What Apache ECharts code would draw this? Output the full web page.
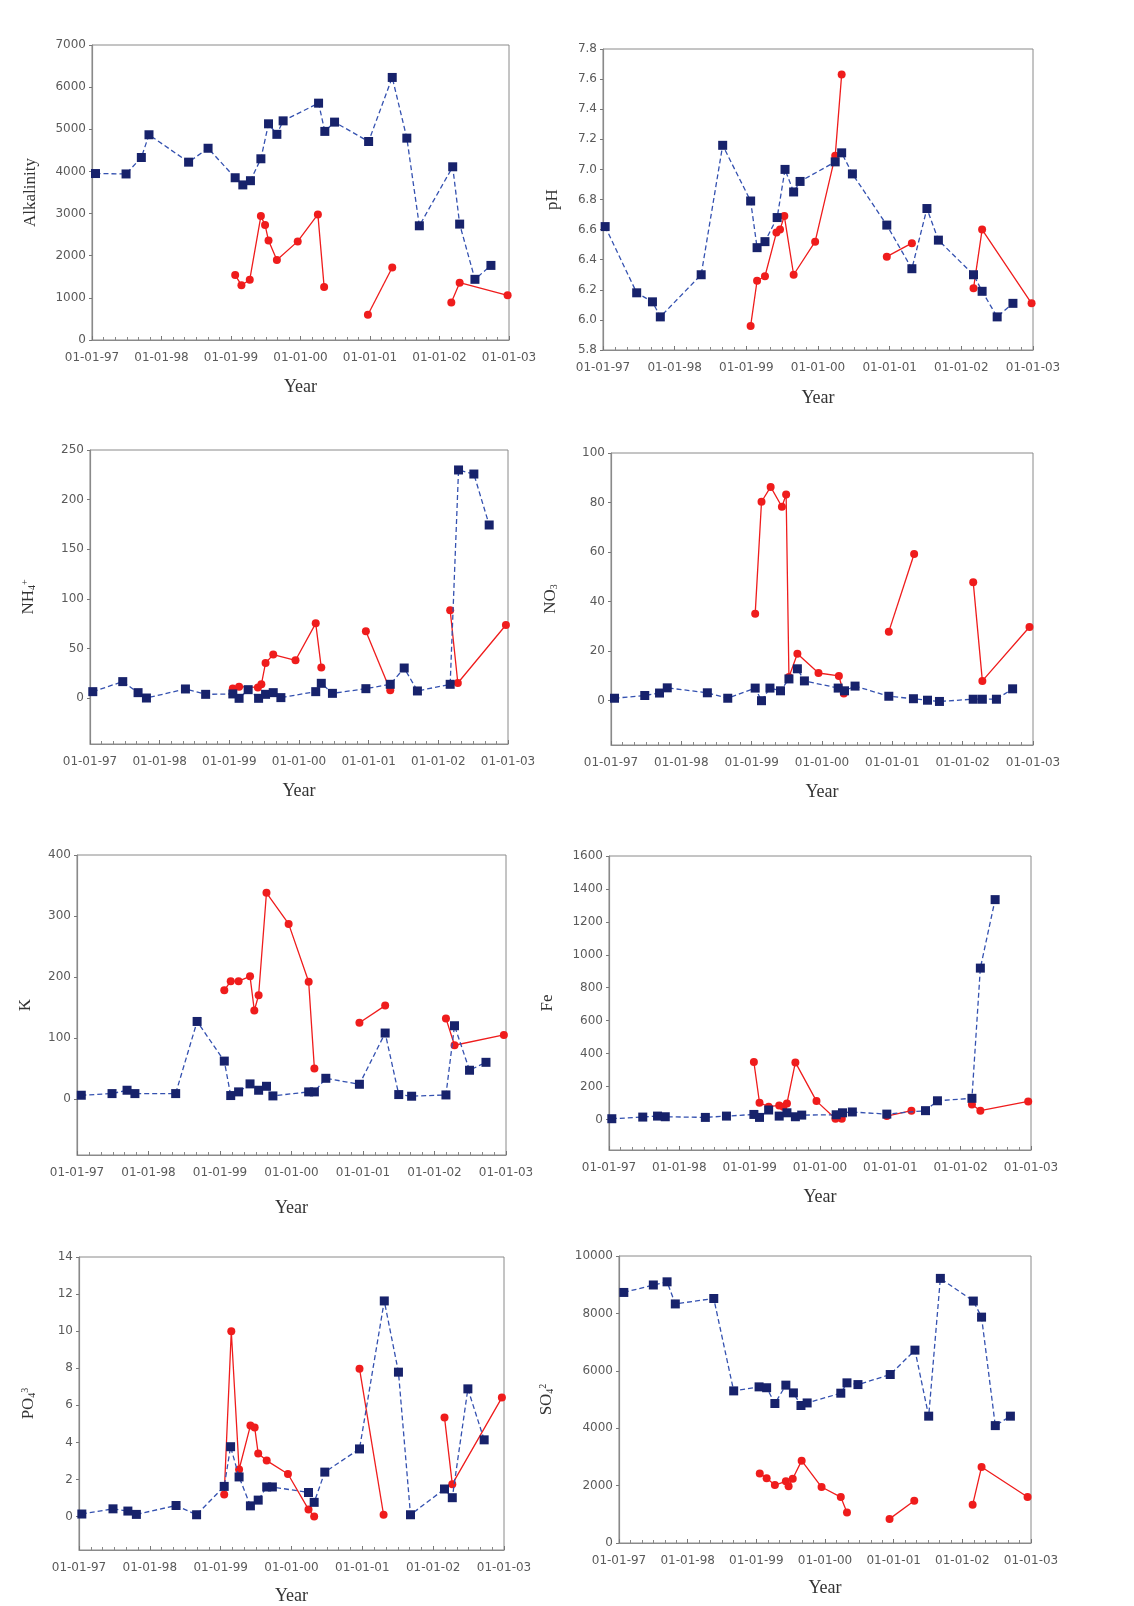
<!DOCTYPE html>
<html>
<head>
<meta charset="utf-8">
<script src="https://cdn.jsdelivr.net/npm/echarts@6/dist/echarts.min.js"></script>
<style>
  html, body { margin: 0; padding: 0; background: #ffffff; }
  #chart { width: 1134px; height: 1606px; }
</style>
</head>
<body>
<div id="chart"></div>
<script>
// Sampling dates are decimal years; null marks a break in the red record.

// Alkalinity
const alkBlueYr = [1997.05,1997.49,1997.71,1997.82,1998.39,1998.67,1999.06,1999.17,1999.28,1999.43,1999.54,1999.66,1999.75,2000.26,2000.35,2000.49,2000.98,2001.32,2001.53,2001.71,2002.19,2002.29,2002.51,2002.74];
const alkBlue   = [3950,3940,4330,4870,4220,4550,3850,3680,3780,4300,5130,4880,5200,5620,4950,5170,4710,6230,4790,2710,4110,2750,1440,1770];
const alkRedYr  = [1999.06,1999.15,1999.27,1999.43,1999.49,1999.54,1999.66,1999.96,2000.25,2000.34,null,2000.97,2001.32,null,2002.17,2002.29,2002.98];
const alkRed    = [1540,1300,1430,2940,2730,2360,1900,2340,2980,1260,null,600,1720,null,890,1360,1060];
const alkTicks  = [0,1000,2000,3000,4000,5000,6000,7000];

// pH
const phBlueYr = [1997.03,1997.47,1997.69,1997.80,1998.37,1998.67,1999.06,1999.15,1999.26,1999.43,1999.54,1999.66,1999.75,2000.24,2000.33,2000.48,2000.96,2001.31,2001.52,2001.68,2002.17,2002.29,2002.50,2002.72];
const phBlue   = [6.62,6.18,6.12,6.02,6.30,7.16,6.79,6.48,6.52,6.68,7.00,6.85,6.92,7.05,7.11,6.97,6.63,6.34,6.74,6.53,6.30,6.19,6.02,6.11];
const phRedYr  = [1999.06,1999.15,1999.26,1999.42,1999.47,1999.53,1999.66,1999.96,2000.24,2000.33,null,2000.96,2001.31,null,2002.17,2002.29,2002.98];
const phRed    = [5.96,6.26,6.29,6.58,6.60,6.69,6.30,6.52,7.09,7.63,null,6.42,6.51,null,6.21,6.60,6.11];
const phTicks  = [5.8,6.0,6.2,6.4,6.6,6.8,7.0,7.2,7.4,7.6,7.8];

// NH4+
const nhBlueYr = [1997.04,1997.47,1997.69,1997.81,1998.37,1998.66,1999.05,1999.14,1999.27,1999.42,1999.52,1999.63,1999.74,2000.24,2000.32,2000.48,2000.96,2001.31,2001.51,2001.70,2002.17,2002.29,2002.51,2002.73];
const nhBlue   = [6.7,16.8,5.7,0.3,9.4,4.0,4.4,0,8.7,0,4.0,5.7,0.7,6.7,15.1,5.0,9.7,14.1,30.5,7.4,14.1,229.9,225.8,174.5];
const nhRedYr  = [1999.05,1999.14,1999.41,1999.46,1999.52,1999.63,1999.95,2000.24,2000.32,null,2000.96,2001.31,null,2002.17,2002.28,2002.97];
const nhRed    = [10,11.7,11,14.1,35.6,44,38.3,75.5,30.9,null,67.4,8.1,null,88.6,15.4,73.8];
const nhTicks  = [0,50,100,150,200,250];

// NO3
const noBlueYr = [1997.05,1997.48,1997.69,1997.80,1998.37,1998.66,1999.05,1999.14,1999.26,1999.41,1999.53,1999.65,1999.75,2000.23,2000.32,2000.47,2000.95,2001.30,2001.50,2001.67,2002.15,2002.28,2002.48,2002.71];
const noBlue   = [0.9,2.0,3.0,5.1,3.1,0.9,5.0,-0.1,5.0,3.9,8.7,12.8,7.9,5.0,3.9,5.8,1.7,0.7,0.1,-0.4,0.5,0.5,0.5,4.7];
const noRedYr  = [1999.05,1999.14,1999.27,1999.43,1999.49,1999.53,1999.65,1999.95,2000.24,2000.31,null,2000.95,2001.31,null,2002.15,2002.28,2002.95];
const noRed    = [35.0,80.3,86.3,78.3,83.2,9.5,18.9,11.1,9.9,2.8,null,27.8,59.2,null,47.8,7.9,29.7];
const noTicks  = [0,20,40,60,80,100];

// K
const kBlueYr = [1997.06,1997.49,1997.70,1997.81,1998.38,1998.68,1999.06,1999.15,1999.26,1999.42,1999.54,1999.65,1999.74,2000.24,2000.32,2000.48,2000.95,2001.31,2001.50,2001.68,2002.16,2002.28,2002.49,2002.72];
const kBlue   = [6.0,8.7,14.2,8.7,8.7,127,62,5.5,11.5,24.6,14.2,20.7,4.9,11.5,11.5,33.8,24.0,108,7.1,4.4,6.5,120,47,60];
const kRedYr  = [1999.06,1999.15,1999.26,1999.42,1999.48,1999.54,1999.65,1999.96,2000.24,2000.32,null,2000.95,2001.31,null,2002.16,2002.28,2002.97];
const kRed    = [178,193,193,201,145,170,338,287,192,50,null,125,153,null,132,88,105];
const kTicks  = [0,100,200,300,400];

// Fe
const feBlueYr = [1997.04,1997.48,1997.69,1997.80,1998.37,1998.67,1999.06,1999.14,1999.27,1999.42,1999.53,1999.65,1999.74,2000.23,2000.32,2000.46,2000.95,2001.50,2001.67,2002.16,2002.28,2002.49];
const feBlue   = [4,14,20,16,12,20,30,12,57,20,40,16,26,28,40,45,32,53,113,128,919,1335];
const feRedYr  = [1999.06,1999.14,1999.27,1999.42,1999.48,1999.53,1999.65,1999.95,2000.22,2000.31,null,2000.95,2001.30,null,2002.16,2002.28,2002.96];
const feRed    = [348,101,77,85,77,97,346,111,4,4,null,20,53,null,91,53,109];
const feTicks  = [0,200,400,600,800,1000,1200,1400,1600];

// PO4
const poBlueYr = [1997.04,1997.48,1997.69,1997.81,1998.37,1998.66,1999.05,1999.14,1999.26,1999.42,1999.53,1999.65,1999.73,2000.24,2000.32,2000.47,2000.96,2001.31,2001.51,2001.68,2002.16,2002.27,2002.49,2002.72];
const poBlue   = [0.14,0.42,0.30,0.12,0.60,0.10,1.63,3.77,2.14,0.58,0.89,1.60,1.60,1.30,0.77,2.40,3.65,11.63,7.79,0.10,1.49,1.02,6.89,4.14];
const poRedYr  = [1999.05,1999.15,1999.26,1999.42,1999.48,1999.53,1999.65,1999.95,2000.24,2000.32,null,2000.96,2001.30,null,2002.16,2002.27,2002.97];
const poRed    = [1.19,10.0,2.54,4.91,4.81,3.40,3.02,2.30,0.39,0,null,7.98,0.10,null,5.35,1.75,6.42];
const poTicks  = [0,2,4,6,8,10,12,14];

// SO4
const soBlueYr = [1997.07,1997.50,1997.70,1997.82,1998.38,1998.67,1999.04,1999.15,1999.27,1999.43,1999.54,1999.65,1999.74,2000.23,2000.32,2000.48,2000.95,2001.31,2001.51,2001.68,2002.16,2002.28,2002.48,2002.70];
const soBlue   = [8730,8990,9100,8330,8520,5300,5440,5410,4860,5500,5230,4790,4880,5220,5580,5520,5870,6720,4420,9220,8430,7870,4090,4420];
const soRedYr  = [1999.05,1999.15,1999.27,1999.43,1999.47,1999.53,1999.66,1999.95,2000.23,2000.32,null,2000.94,2001.30,null,2002.15,2002.28,2002.95];
const soRed    = [2420,2260,2020,2150,1980,2240,2870,1950,1600,1060,null,840,1470,null,1330,2650,1600];
const soTicks  = [0,2000,4000,6000,8000,10000];

// Shared time axis: whole years 1997..2003
const yearStart = 1997, yearEnd = 2003;

const panels = [
  { title: 'Alkalinity', bYr: alkBlueYr, b: alkBlue, rYr: alkRedYr, r: alkRed, ticks: alkTicks, min: 0,
    box: { left: 92, top: 45, width: 417, height: 295 }, yGap: 53, xGap: 38 },
  { title: 'pH', bYr: phBlueYr, b: phBlue, rYr: phRedYr, r: phRed, ticks: phTicks, min: 5.8, dec: 1,
    box: { left: 603, top: 49, width: 430, height: 301 }, yGap: 42, xGap: 39 },
  { title: 'NH{s|4}{p|+}', bYr: nhBlueYr, b: nhBlue, rYr: nhRedYr, r: nhRed, ticks: nhTicks, min: -46,
    box: { left: 90, top: 450, width: 418, height: 294 }, yGap: 53, xGap: 38 },
  { title: 'NO{s|3}', bYr: noBlueYr, b: noBlue, rYr: noRedYr, r: noRed, ticks: noTicks, min: -18,
    box: { left: 611, top: 453, width: 422, height: 292 }, yGap: 52, xGap: 38 },
  { title: 'K', bYr: kBlueYr, b: kBlue, rYr: kRedYr, r: kRed, ticks: kTicks, min: -92,
    box: { left: 77, top: 855, width: 429, height: 300 }, yGap: 43, xGap: 44 },
  { title: 'Fe', bYr: feBlueYr, b: feBlue, rYr: feRedYr, r: feRed, ticks: feTicks, min: -186,
    box: { left: 609, top: 856, width: 422, height: 294 }, yGap: 53, xGap: 38 },
  { title: 'PO{s|4}{p|3}', bYr: poBlueYr, b: poBlue, rYr: poRedYr, r: poRed, ticks: poTicks, min: -1.8,
    box: { left: 79, top: 1257, width: 425, height: 300 }, yGap: 42, xGap: 37 },
  { title: 'SO{s|4}{p|2}', bYr: soBlueYr, b: soBlue, rYr: soRedYr, r: soRed, ticks: soTicks, min: 0,
    box: { left: 619, top: 1256, width: 412, height: 287 }, yGap: 64, xGap: 36 }
];

const axisGrey = '#8a8a8a';
const tickFont = 'DejaVu Sans';
const nameFont = 'Liberation Serif';
const blueMark = '#17226b';
const blueLine = '#3451b0';
const redMark = '#ef1c1c';

function zip(xs, ys) {
  return xs.map((x, i) => [x, ys[i]]);
}

// Split a record with null separators into continuous runs
function runs(xs, ys) {
  const out = [];
  let cur = [];
  xs.forEach((x, i) => {
    if (x === null || ys[i] === null) {
      if (cur.length) out.push(cur);
      cur = [];
    } else {
      cur.push([x, ys[i]]);
    }
  });
  if (cur.length) out.push(cur);
  return out;
}

const grid = [], xAxis = [], yAxis = [], series = [];

panels.forEach((p, i) => {
  grid.push(Object.assign({ show: true, borderColor: axisGrey, borderWidth: 1, backgroundColor: 'transparent' }, p.box));

  xAxis.push({
    gridIndex: i, type: 'value', min: yearStart, max: yearEnd, interval: 1,
    name: 'Year', nameLocation: 'middle', nameGap: p.xGap,
    nameTextStyle: { fontFamily: nameFont, fontSize: 18, color: '#333' },
    axisLine: { onZero: false, lineStyle: { color: axisGrey, width: 1.2 } },
    axisTick: { inside: true, length: 4, lineStyle: { color: '#777' } },
    minorTick: { show: true, splitNumber: 6, length: 3, lineStyle: { color: '#888' } },
    splitLine: { show: false },
    axisLabel: {
      margin: 12, fontFamily: tickFont, fontSize: 12, color: '#5a5a5a',
      showMinLabel: true, showMaxLabel: true,
      formatter: v => '01-01-' + String(Math.round(v)).slice(2)
    }
  });

  const sub = { fontFamily: nameFont, fontSize: 10, color: '#333', verticalAlign: 'bottom' };
  const sup = { fontFamily: nameFont, fontSize: 10, color: '#333', verticalAlign: 'top' };
  yAxis.push({
    gridIndex: i, type: 'value', min: p.min, max: p.ticks[p.ticks.length - 1],
    name: p.title, nameLocation: 'middle', nameGap: p.yGap, nameRotate: 90,
    nameTextStyle: { fontFamily: nameFont, fontSize: 17, color: '#333', rich: { s: sub, p: sup } },
    axisLine: { show: true, onZero: false, lineStyle: { color: axisGrey, width: 1.2 } },
    axisTick: { show: true, length: 3, customValues: p.ticks, lineStyle: { color: '#777' } },
    splitLine: { show: false },
    axisLabel: {
      customValues: p.ticks, margin: 6, fontFamily: tickFont, fontSize: 12, color: '#5a5a5a',
      formatter: v => p.dec ? Number(v).toFixed(p.dec) : String(Math.round(v))
    }
  });

  runs(p.rYr, p.r).forEach(seg => {
    series.push({
      type: 'line', xAxisIndex: i, yAxisIndex: i, data: seg, z: 2,
      symbol: 'circle', symbolSize: 8, animation: false,
      itemStyle: { color: redMark },
      lineStyle: { color: redMark, width: 1.3 }
    });
  });

  series.push({
    type: 'line', xAxisIndex: i, yAxisIndex: i, data: zip(p.bYr, p.b), z: 3,
    symbol: 'rect', symbolSize: 9, animation: false,
    itemStyle: { color: blueMark },
    lineStyle: { color: blueLine, width: 1.3, type: [5, 3] }
  });
});

const chart = echarts.init(document.getElementById('chart'), null, { renderer: 'canvas' });
chart.setOption({ backgroundColor: '#ffffff', animation: false, grid, xAxis, yAxis, series });
</script>
</body>
</html>
